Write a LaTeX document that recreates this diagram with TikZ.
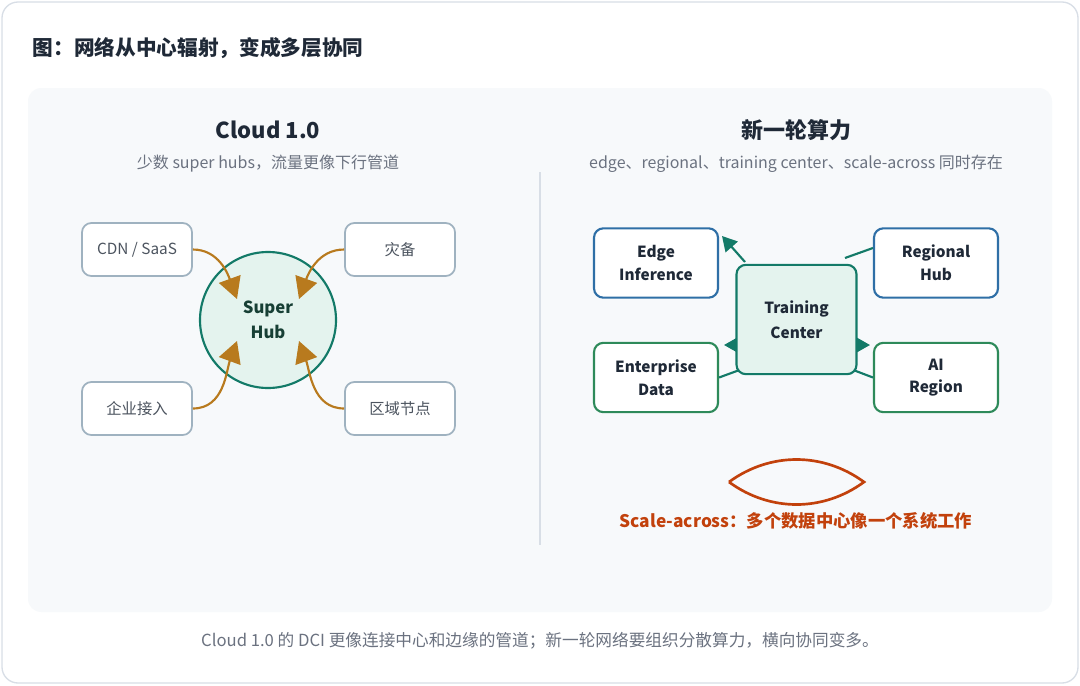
\documentclass[tikz,border=0pt]{standalone}
\usepackage{fontspec}
\setmainfont{Noto Sans CJK SC}
\usetikzlibrary{arrows.meta}
\definecolor{bord}{HTML}{D8DEE6}
\definecolor{panel}{HTML}{F7F9FB}
\definecolor{txt}{HTML}{1F2937}
\definecolor{gray}{HTML}{6B7280}
\definecolor{boxb}{HTML}{9FB2C0}
\definecolor{teal}{HTML}{137A68}
\definecolor{tealf}{HTML}{E4F3EE}
\definecolor{blue}{HTML}{2F6FA6}
\definecolor{green}{HTML}{2E8A5A}
\definecolor{brown}{HTML}{B87A1E}
\definecolor{red}{HTML}{C2410C}
\definecolor{dark}{HTML}{173F35}
\begin{document}
\begin{tikzpicture}[x=0.75pt,y=-0.75pt,
 gbox/.style={draw=boxb,line width=1.3pt,rounded corners=7pt,fill=white,minimum width=82.5pt,minimum height=39.75pt,font=\fontsize{11.5}{13}\selectfont,text=txt!80},
 rbox/.style={draw=#1,line width=1.6pt,rounded corners=7pt,fill=white,minimum width=93pt,minimum height=52pt,font=\bfseries\fontsize{11.5}{17}\selectfont,text=txt,align=center},
 barr/.style={draw=brown,line width=1.6pt,-{Triangle[length=16pt,width=17pt]}},
 tarr/.style={draw=teal,line width=1.6pt,-{Triangle[length=11pt,width=12pt]}}]
\useasboundingbox (0,0) rectangle (1080,685);
\draw[bord,fill=white,line width=1pt,rounded corners=12pt] (2,2) rectangle (1078,683);
\fill[panel,rounded corners=10pt] (28,88) rectangle (1052,612);
\node[anchor=west,font=\bfseries\fontsize{15.5}{18}\selectfont,text=txt] (title) at (28,48) {图：网络从中心辐射，变成多层协同};
\draw[bord,line width=1.3pt] (540,172) -- (540,545);
% left
\node[font=\bfseries\fontsize{16.5}{18}\selectfont,text=txt] (lt) at (268,130) {Cloud 1.0};
\node[font=\fontsize{12}{13}\selectfont,text=gray] (ls) at (268,164) {少数 super hubs，流量更像下行管道};
\node[gbox] (cdn) at (137,249.5) {CDN / SaaS};
\node[gbox] (zb) at (400,249.5) {灾备};
\node[gbox] (qy) at (137,408.5) {企业接入};
\node[gbox] (qd) at (400,408.5) {区域节点};
\node[circle,draw=teal,line width=1.6pt,fill=tealf,minimum size=102pt,font=\bfseries\fontsize{12.5}{19}\selectfont,text=dark,align=center] (hub) at (268,320) {Super\\Hub};
\draw[barr] (cdn.east) to[out=0,in=110] (237,299);
\draw[barr] (zb.west) to[out=180,in=70] (299,299);
\draw[barr] (qy.east) to[out=0,in=-110] (237,341);
\draw[barr] (qd.west) to[out=180,in=-70] (299,341);
% right
\node[font=\bfseries\fontsize{16.5}{18}\selectfont,text=txt] (rt) at (796,130) {新一轮算力};
\node[font=\fontsize{12}{13}\selectfont,text=gray] (rs) at (796,164) {edge、regional、training center、scale-across 同时存在};
\node[rbox=blue] (edge) at (656,263) {Edge\\Inference};
\node[rbox=blue] (reg) at (936,263) {Regional\\Hub};
\node[rbox=green] (ent) at (656,377.5) {Enterprise\\Data};
\node[rbox=green] (ai) at (936,377.5) {AI\\Region};
\draw[tarr] (745,262) -- (722,236);
\draw[teal,line width=1.6pt] (reg.west) ++(0,-15) -- (845,258);
\draw[tarr] (790,345) -- (724,345);
\draw[tarr] (800,345) -- (870,345);
\draw[teal,line width=1.6pt] (ent.east) -- (745,368);
\draw[teal,line width=1.6pt] (ai.west) -- (848,368);
\node[draw=teal,line width=1.6pt,rounded corners=7pt,fill=tealf,minimum width=90pt,minimum height=82pt,font=\bfseries\fontsize{11.5}{19}\selectfont,text=txt,align=center] (tc) at (796.5,319.5) {Training\\Center};
\coordinate (la) at (729,482);
\coordinate (lb) at (864,482);
\draw[red,line width=2pt] (la) .. controls (770,452) and (823,452) .. (lb) .. controls (823,512) and (770,512) .. (la);
\node[font=\bfseries\fontsize{13}{15}\selectfont,text=red] (sa) at (796,521) {Scale-across：多个数据中心像一个系统工作};
\node[font=\fontsize{12.5}{15}\selectfont,text=gray] (foot) at (540,641) {Cloud 1.0 的 DCI 更像连接中心和边缘的管道；新一轮网络要组织分散算力，横向协同变多。};
\end{tikzpicture}
\end{document}
